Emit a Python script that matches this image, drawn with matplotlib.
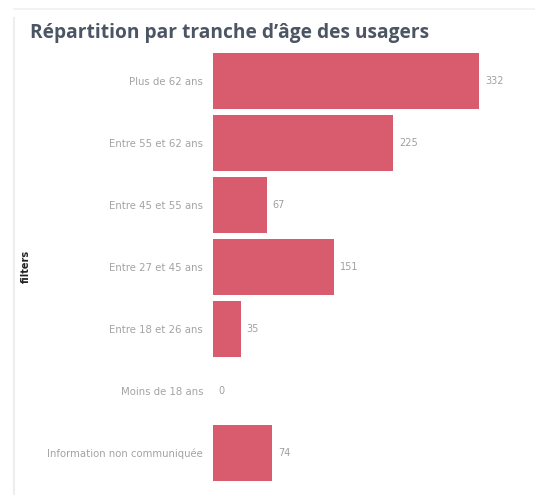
import matplotlib.pyplot as plt
from matplotlib.lines import Line2D

categories = ['Plus de 62 ans', 'Entre 55 et 62 ans', 'Entre 45 et 55 ans',
              'Entre 27 et 45 ans', 'Entre 18 et 26 ans', 'Moins de 18 ans',
              'Information non communiquée']
values = [332, 225, 67, 151, 35, 0, 74]

BAR_COLOR = '#d95b6e'

fig = plt.figure(figsize=(5.35, 4.95), dpi=100)
ax = fig.add_axes([0.398, 0.022, 0.552, 0.877])

ax.barh(range(len(values)), values, height=0.9, color=BAR_COLOR)
for i, v in enumerate(values):
    ax.text(v + 7, i, str(v), va='center', ha='left', fontsize=7, color='#a0a0a0')

ax.set_ylim(6.5, -0.5)
ax.set_xlim(0, 368)
ax.set_yticks(range(len(categories)))
ax.set_yticklabels(categories, fontsize=7.3, color='#a3a3a3')
ax.tick_params(axis='y', length=0, pad=7)
ax.set_xticks([])
for s in ax.spines.values():
    s.set_visible(False)

# card borders
fig.add_artist(Line2D([14/535, 14/535], [0, 1 - 18/495], color='#eeeeee', lw=1.5))
fig.add_artist(Line2D([14/535, 1], [1 - 9/495, 1 - 9/495], color='#f0f0f0', lw=1.2))

fig.text(30/535, 1 - 33/495, "Répartition par tranche d’âge des usagers",
         fontsize=13.8, fontweight='bold', color='#4b5563', va='center', ha='left',
         family='Open Sans')
fig.text(26/535, 1 - 266/495, 'filters', rotation=90, fontsize=7, fontweight='bold',
         color='#222222', va='center', ha='center')

fig.savefig('out.png', dpi=100)
